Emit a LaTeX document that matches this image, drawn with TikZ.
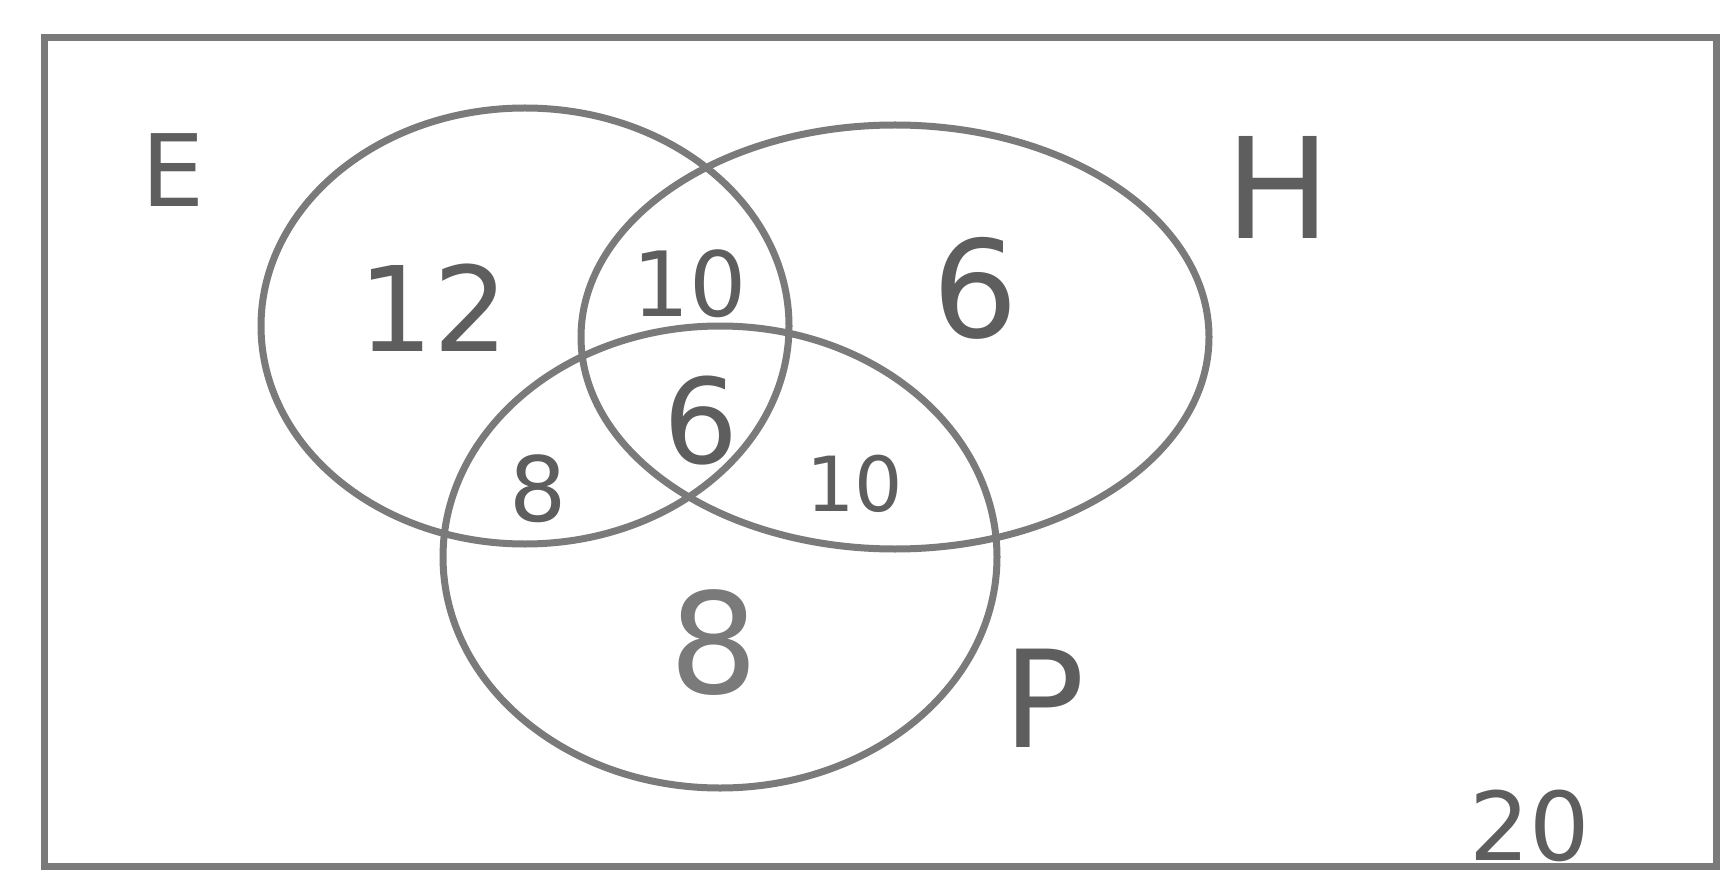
\documentclass[tikz,border=0pt]{standalone}
\usepackage{fontspec}
\setmainfont{DejaVu Sans}
\usetikzlibrary{shapes.geometric}
\definecolor{pencil}{HTML}{7A7A7A}
\definecolor{ink}{HTML}{5E5E5E}
\tikzset{
  setshape/.style={ellipse, draw=pencil, line width=7pt, inner sep=0pt},
  frame/.style={draw=pencil, line width=7pt},
  lbl/.style={text=ink, inner sep=0pt, anchor=center, font=\fontsize{#1}{#1}\selectfont},
}
\begin{document}
\begin{tikzpicture}[x=1pt,y=-1pt]
\useasboundingbox (0,0) rectangle (1723,890);
\draw[frame] (44,38) rectangle (1716,866);
\node[setshape, minimum width=528pt, minimum height=436pt] (E) at (525,326) {};
\node[setshape, minimum width=628pt, minimum height=424pt] (H) at (895,337) {};
\node[setshape, minimum width=554pt, minimum height=462pt] (P) at (720,557) {};
\node[lbl=100] (lE) at (173,170) {E};
\node[lbl=140] (lH) at (1278,187) {H};
\node[lbl=135] (lP) at (1044,698) {P};
\node[lbl=95] (n20) at (1530,826) {20};
\node[lbl=118] (n12) at (434,308) {12};
\node[lbl=90] (n10a) at (690,284) {10};
\node[lbl=135] (n6a) at (975,288) {6};
\node[lbl=118] (n6b) at (701,421) {6};
\node[lbl=90] (n8a) at (538,489) {8};
\node[lbl=76] (n10b) at (855,484) {10};
\node[lbl=140, text=pencil] (n8b) at (714,643) {8};
\end{tikzpicture}
\end{document}
